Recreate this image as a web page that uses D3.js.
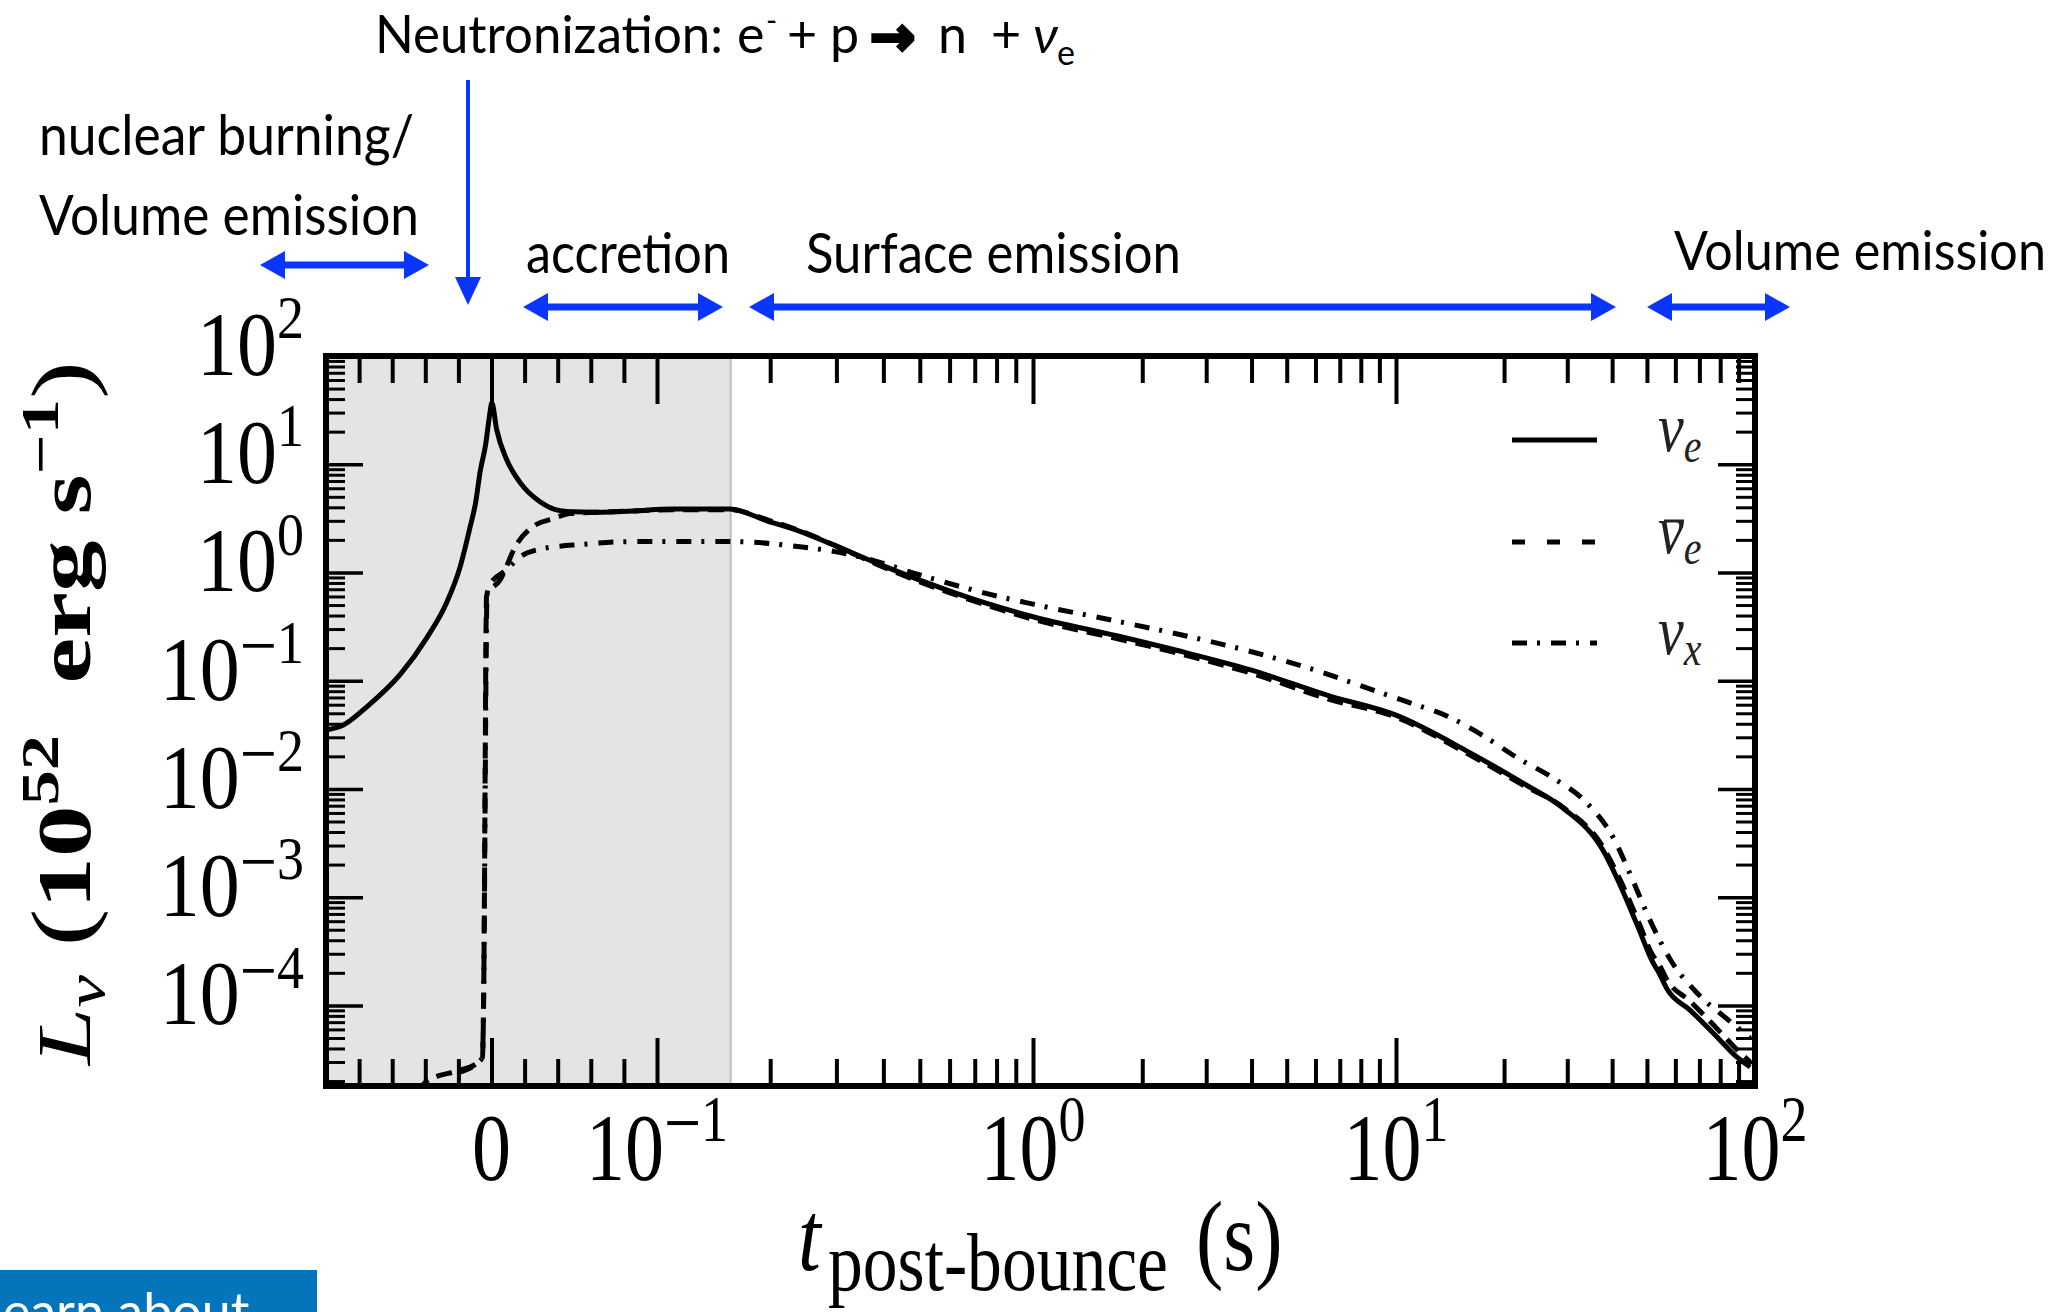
<!DOCTYPE html>
<html>
<head>
<meta charset="utf-8">
<script src="https://cdn.jsdelivr.net/npm/d3@7"></script>
<style>
  html, body { margin: 0; padding: 0; background: #ffffff; }
  svg { display: block; }
</style>
</head>
<body>
<svg id="chart" width="2058" height="1312"></svg>
<script>
// ---- luminosity curves: time after bounce (s) and luminosity (1e52 erg/s) ----
const nuETime = [-0.1, -0.0895, -0.075, -0.055, -0.039, -0.027, -0.019, -0.013, -0.0095, -0.0069, -0.0036, -0.0012, 0.0002,
  0.0031, 0.0092, 0.0172, 0.0293, 0.0455, 0.065, 0.085, 0.11, 0.156, 0.196, 0.24, 0.3, 0.4, 0.5, 0.75, 1.0, 1.7, 2.5, 4.0,
  6.58, 10, 15.9, 22.9, 29.3, 37.5, 42.3, 45.6, 47.8, 51.6, 54, 57, 65.8, 78, 88.4, 97];
const nuELum = [0.035, 0.039, 0.058, 0.115, 0.25, 0.53, 1.12, 2.6, 4.5, 8.5, 15, 28, 37,
  21, 11, 6.8, 4.5, 3.65, 3.6, 3.7, 3.85, 3.85, 3.0, 2.4, 1.75, 1.15, 0.85, 0.52, 0.39, 0.26, 0.19, 0.125,
  0.072, 0.048, 0.022, 0.011, 0.0066, 0.0028, 0.00125, 0.0007, 0.00048, 0.00026, 0.0002, 0.00014, 0.000091, 0.000052, 0.000034, 0.000027];

const nuEBarTime = [-0.045, -0.039, -0.02, -0.009, -0.0055, -0.0045, -0.0039, -0.0034, -0.003, 0.0051, 0.0152, 0.0253, 0.0373,
  0.0474, 0.065, 0.085, 0.11, 0.156, 0.2, 0.25, 0.3, 0.4, 0.5, 0.75, 1.0, 1.7, 2.5, 4.0, 6.58, 10, 15.9, 22.9, 29.3, 37.5,
  42.3, 45.6, 47.8, 51.6, 54, 57, 65.8, 78, 88.4, 97];
const nuEBarLum = [1.6e-5, 2.0e-5, 2.5e-5, 2.9e-5, 3.3e-5, 3e-4, 0.01, 0.2, 0.61, 0.85, 1.82, 2.67, 3.14,
  3.5, 3.6, 3.7, 3.8, 3.8, 3.0, 2.3, 1.75, 1.12, 0.82, 0.5, 0.37, 0.245, 0.18, 0.117, 0.067, 0.046, 0.021, 0.0106, 0.0067, 0.003,
  0.0014, 0.0008, 0.00055, 0.0003, 0.00024, 0.00017, 0.00011, 0.000062, 0.00004, 0.00003];

const nuXTime = [-0.02, -0.009, -0.0055, -0.0045, -0.0038, -0.0032, -0.0027, -0.0009, 0.0092, 0.0172, 0.0293, 0.0555, 0.0857,
  0.156, 0.24, 0.3, 0.35, 0.5, 0.75, 1.0, 1.7, 2.5, 4.0, 6.0, 9.0, 11, 13.9, 17.5, 22, 27.2, 33.9, 40.2, 45.6, 50.9, 58.3,
  69, 84, 97];
const nuXLum = [2.4e-5, 2.9e-5, 3.3e-5, 3e-4, 0.01, 0.2, 0.63, 0.78, 1.06, 1.39, 1.64, 1.82, 1.93,
  1.93, 1.73, 1.55, 1.38, 0.95, 0.64, 0.51, 0.355, 0.27, 0.185, 0.125, 0.078, 0.062, 0.047, 0.031, 0.019, 0.0128, 0.0075, 0.0036,
  0.00145, 0.00062, 0.00026, 0.00013, 0.000074, 0.00005];

// end of the shaded early-time window (s)
const shadeEnd = 0.157;

// ---- axis ticks ----
const xMajorTicks = [0, 0.1, 1, 10, 100];
const xMinorTicks = [-0.08, -0.06, -0.04, -0.02, 0.02, 0.04, 0.06, 0.08,
  0.2, 0.3, 0.4, 0.5, 0.6, 0.7, 0.8, 0.9, 2, 3, 4, 5, 6, 7, 8, 9, 20, 30, 40, 50, 60, 70, 80, 90];
const xTickBase = ["0", "10", "10", "10", "10"];
const xTickSign = ["", "\u2212", "", "", ""];
const xTickExp = ["", "1", "0", "1", "2"];

const yMajorTicks = [1e-4, 1e-3, 1e-2, 1e-1, 1, 10, 100];
const yTickSign = ["\u2212", "\u2212", "\u2212", "\u2212", "", "", ""];
const yTickExp = ["4", "3", "2", "1", "0", "1", "2"];
const yMinorTicks = [];
for (let e = -5; e <= 1; e++) for (let m = 2; m <= 9; m++) {
  const v = m * Math.pow(10, e);
  if (v > 1.8e-5) yMinorTicks.push(v);
}

const legendNames = ["\u03BD", "\u03BD", "\u03BD"];
const legendSubs = ["e", "e", "x"];
const legendBar = [false, true, false];

// ---- layout ----
const plot = { left: 326, right: 1755, top: 356, bottom: 1086 };
const svg = d3.select("#chart");

// symmetric-log style time axis: linear inside |t| <= 0.1, logarithmic beyond
const xLin = d3.scaleLinear().domain([-0.1, 0, 0.1]).range([plot.left, 491.5, 657]);
const xLog = d3.scaleLog().domain([0.1, 1, 10, 100]).range([657, 1033, 1396, plot.right]);
function x(t) { return t <= 0.1 ? xLin(t) : xLog(t); }
x.copy = () => x;
x.range = () => [plot.left, plot.right];
x.domain = () => [-0.1, 100];

const y = d3.scaleLog().domain([1.80e-5, 100]).range([plot.bottom, plot.top]);

svg.append("rect").attr("width", 2058).attr("height", 1312).attr("fill", "#ffffff");

// shaded window
svg.append("rect")
  .attr("x", x(-0.1)).attr("y", plot.top)
  .attr("width", x(shadeEnd) - x(-0.1)).attr("height", plot.bottom - plot.top)
  .attr("fill", "#e4e4e4");
svg.append("line")
  .attr("x1", x(shadeEnd)).attr("x2", x(shadeEnd))
  .attr("y1", plot.top).attr("y2", plot.bottom)
  .attr("stroke", "#bdbdbd").attr("stroke-width", 2);

// ticks (all pointing inward)
function tickLayer(axis, tx, ty, width) {
  svg.append("g").attr("transform", `translate(${tx},${ty})`)
    .call(axis)
    .call(g => g.select(".domain").remove())
    .call(g => g.selectAll("text").remove())
    .selectAll("line").attr("stroke", "#000").attr("stroke-width", width);
}
tickLayer(d3.axisBottom(x).tickValues(xMinorTicks).tickSize(-27).tickFormat(""), 0, plot.bottom, 4);
tickLayer(d3.axisBottom(x).tickValues(xMajorTicks).tickSize(-48).tickFormat(""), 0, plot.bottom, 4);
tickLayer(d3.axisTop(x).tickValues(xMinorTicks).tickSize(-27).tickFormat(""), 0, plot.top, 4);
tickLayer(d3.axisTop(x).tickValues(xMajorTicks).tickSize(-48).tickFormat(""), 0, plot.top, 4);
tickLayer(d3.axisLeft(y).tickValues(yMinorTicks).tickSize(-19).tickFormat(""), plot.left, 0, 3);
tickLayer(d3.axisLeft(y).tickValues(yMajorTicks).tickSize(-37).tickFormat(""), plot.left, 0, 3.5);
tickLayer(d3.axisRight(y).tickValues(yMinorTicks).tickSize(-19).tickFormat(""), plot.right, 0, 3);
tickLayer(d3.axisRight(y).tickValues(yMajorTicks).tickSize(-37).tickFormat(""), plot.right, 0, 3.5);

// curves
svg.append("clipPath").attr("id", "plotClip")
  .append("rect").attr("x", plot.left).attr("y", plot.top)
  .attr("width", plot.right - plot.left).attr("height", plot.bottom - plot.top);

const line = d3.line().x(d => x(d[0])).y(d => y(d[1])).curve(d3.curveMonotoneX);
const series = [
  { t: nuETime, l: nuELum, dash: null },
  { t: nuEBarTime, l: nuEBarLum, dash: "16,9" },
  { t: nuXTime, l: nuXLum, dash: "15,10,3,11" }
];
const curves = svg.append("g").attr("clip-path", "url(#plotClip)");
series.forEach(s => {
  curves.append("path")
    .attr("d", line(d3.zip(s.t, s.l)))
    .attr("fill", "none").attr("stroke", "#000").attr("stroke-width", 5)
    .attr("stroke-linejoin", "round")
    .attr("stroke-dasharray", s.dash);
});

// frame
svg.append("rect")
  .attr("x", plot.left).attr("y", plot.top)
  .attr("width", plot.right - plot.left).attr("height", plot.bottom - plot.top)
  .attr("fill", "none").attr("stroke", "#000").attr("stroke-width", 6);

// tick labels
const serif = "'Liberation Serif', 'Times New Roman', serif";
function powerLabel(t, base, sign, exp) {
  t.append("tspan").text(base);
  if (sign) {
    t.append("tspan").attr("dy", -25).attr("font-size", 66).text(sign);
    t.append("tspan").attr("dy", -7).attr("font-size", 54).text(exp);
  } else if (exp) {
    t.append("tspan").attr("dy", -32).attr("font-size", 54).text(exp);
  }
}
xMajorTicks.forEach((v, i) => {
  const t = svg.append("text")
    .attr("transform", `translate(${x(v)},1180) scale(1,1.22)`)
    .attr("text-anchor", "middle")
    .attr("font-family", serif).attr("font-size", 78).attr("fill", "#000");
  powerLabel(t, xTickBase[i], xTickSign[i], xTickExp[i]);
});
yMajorTicks.forEach((v, i) => {
  const t = svg.append("text")
    .attr("transform", `translate(304,${y(v) + 19}) scale(1,1.15)`)
    .attr("text-anchor", "end")
    .attr("font-family", serif).attr("font-size", 80).attr("fill", "#000");
  powerLabel(t, "10", yTickSign[i], yTickExp[i]);
});

// axis titles
const xt = svg.append("g").attr("font-family", serif).attr("fill", "#000");
xt.append("text").attr("transform", "translate(798,1270) scale(1,1.2)")
  .attr("font-size", 82).attr("font-style", "italic").text("t");
xt.append("text").attr("transform", "translate(828,1290) scale(1,1.22)")
  .attr("font-size", 67).attr("textLength", 340).attr("lengthAdjust", "spacingAndGlyphs").text("post-bounce");
xt.append("text").attr("transform", "translate(1196,1270) scale(1,1.2)")
  .attr("font-size", 82).text("(s)");

const yt = svg.append("text")
  .attr("transform", "translate(90,713) rotate(-90)")
  .attr("text-anchor", "middle")
  .attr("font-family", serif).attr("font-size", 76).attr("fill", "#000")
  .attr("textLength", 704).attr("lengthAdjust", "spacingAndGlyphs");
yt.append("tspan").attr("font-style", "italic").text("L");
yt.append("tspan").attr("font-style", "italic").attr("font-size", 54).attr("dy", 14).text("\u03BD");
yt.append("tspan").attr("dy", -14).attr("font-size", 84).text(" (");
yt.append("tspan").attr("font-weight", "bold").text("10");
yt.append("tspan").attr("font-weight", "bold").attr("font-size", 52).attr("dy", -32).text("52");
yt.append("tspan").attr("font-weight", "bold").attr("dy", 32).text("\u2002erg s");
yt.append("tspan").attr("font-weight", "bold").attr("font-size", 52).attr("dy", -32).text("\u22121");
yt.append("tspan").attr("dy", 32).attr("font-size", 84).text(")");

// legend
const legendY = [440, 542, 643];
const legendDash = [null, "13,22", "15,10,3,11"];
legendY.forEach((ly, i) => {
  svg.append("line").attr("x1", 1512).attr("x2", 1597).attr("y1", ly).attr("y2", ly)
    .attr("stroke", "#000").attr("stroke-width", 5).attr("stroke-dasharray", legendDash[i]);
  const t = svg.append("text")
    .attr("transform", `translate(1658,${ly + 11}) scale(1,1.2)`)
    .attr("font-family", serif).attr("font-style", "italic").attr("font-size", 58).attr("fill", "#222");
  t.append("tspan").text(legendNames[i]);
  t.append("tspan").attr("font-size", 40).attr("dy", 9).text(legendSubs[i]);
  if (legendBar[i]) {
    svg.append("line").attr("x1", 1664).attr("x2", 1684).attr("y1", ly - 21).attr("y2", ly - 21)
      .attr("stroke", "#222").attr("stroke-width", 3);
  }
});

// ---- phase annotations ----
const blue = "#0a35ff";
const sans = "Lato, 'Noto Sans', 'DejaVu Sans', sans-serif";
function doubleArrow(x1, x2, yc) {
  const hl = 25, hh = 14, sw = 3.5;
  const pts = [[x1, yc], [x1 + hl, yc - hh], [x1 + hl, yc - sw], [x2 - hl, yc - sw], [x2 - hl, yc - hh], [x2, yc],
    [x2 - hl, yc + hh], [x2 - hl, yc + sw], [x1 + hl, yc + sw], [x1 + hl, yc + hh]];
  svg.append("path").attr("d", "M" + pts.map(p => p.join(",")).join("L") + "Z").attr("fill", blue);
}
doubleArrow(260, 429, 265);
doubleArrow(523, 723, 307);
doubleArrow(749, 1616, 307);
doubleArrow(1647, 1790, 307);

svg.append("line").attr("x1", 468).attr("x2", 468).attr("y1", 80).attr("y2", 282)
  .attr("stroke", blue).attr("stroke-width", 4);
svg.append("path").attr("d", "M455,277L481,277L468,305Z").attr("fill", blue);

function label(txt, x0, base, width, anchor, size) {
  svg.append("text").attr("x", x0).attr("y", base)
    .attr("text-anchor", anchor || "start")
    .attr("font-family", sans).attr("font-size", size || 56).attr("fill", "#000")
    .attr("textLength", width).attr("lengthAdjust", "spacingAndGlyphs").text(txt);
}
label("nuclear burning/", 39, 155, 375);
label("Volume emission", 39, 235, 380);
label("accretion", 526, 273, 204);
label("Surface emission", 806, 273, 375);
label("Volume emission", 2046, 270, 372, "end", 54);

const neu = svg.append("g").attr("font-family", sans).attr("font-size", 52).attr("fill", "#000");
neu.append("text").attr("x", 375).attr("y", 53).attr("textLength", 348)
  .attr("lengthAdjust", "spacingAndGlyphs").text("Neutronization:");
neu.append("text").attr("x", 737).attr("y", 53).text("e");
neu.append("text").attr("x", 766).attr("y", 31).attr("font-size", 30).text("-");
neu.append("text").attr("x", 787).attr("y", 53).text("+");
neu.append("text").attr("x", 830).attr("y", 53).text("p");
neu.append("text").attr("x", 870).attr("y", 55).attr("font-family", "'DejaVu Sans', sans-serif")
  .attr("font-weight", "bold").attr("font-size", 54).attr("stroke", "#000").attr("stroke-width", 3.5).text("\u2192");
neu.append("text").attr("x", 938).attr("y", 53).text("n");
neu.append("text").attr("x", 991).attr("y", 53).text("+");
neu.append("text").attr("x", 1033).attr("y", 53).attr("font-style", "italic").text("\u03BD");
neu.append("text").attr("x", 1057).attr("y", 65).attr("font-size", 34).text("e");

// bottom-left banner
svg.append("rect").attr("x", 0).attr("y", 1270).attr("width", 317).attr("height", 50).attr("fill", "#0474bb");
svg.append("text").attr("x", -22).attr("y", 1330).attr("font-family", sans).attr("font-size", 52)
  .attr("fill", "#ffffff").text("Learn about");
</script>
</body>
</html>
